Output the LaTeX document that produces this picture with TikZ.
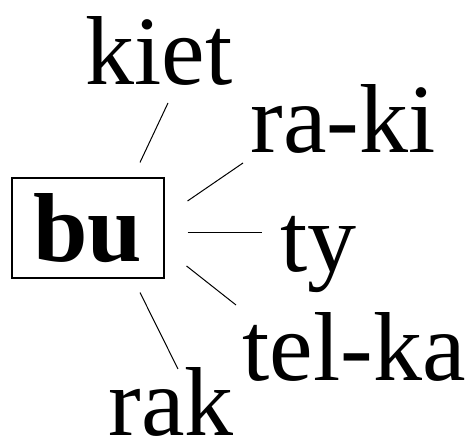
\documentclass[tikz,border=0pt]{standalone}
\usepackage{fontspec}
\setmainfont{Liberation Serif}
\usetikzlibrary{positioning}

\begin{document}
\begin{tikzpicture}[x=0.5pt, y=-0.5pt, line width=0.55pt,
    word/.style={inner sep=0pt, anchor=base west, font=\fontsize{49}{55}\selectfont},
    link/.style={line width=0.5pt}]
    \useasboundingbox (0,0) rectangle (473,442);

    \node[draw, inner sep=0pt, minimum width=76pt, minimum height=50pt, font=\fontsize{49}{55}\selectfont\bfseries] (bu) at (88,228) {bu};

    \node[word] (kiet) at (85,85) {kiet};
    \node[word] (raki) at (250,153) {ra-ki};
    \node[word] (ty) at (280,272) {ty};
    \node[word] (telka) at (242,381) {tel-ka};
    \node[word] (rak) at (108,436) {rak};

    \draw[link] ([shift={(52,-15)}]bu.north) -- ([shift={(83,18)}]kiet.base west);
    \draw[link] ([shift={(23,-27)}]bu.east) -- ([shift={(-7,10)}]raki.base west);
    \draw[link] ([shift={(23,5)}]bu.east) -- ([shift={(-18,-39)}]ty.base west);
    \draw[link] ([shift={(22,38)}]bu.east) -- ([shift={(-6,-76)}]telka.base west);
    \draw[link] ([shift={(52,14)}]bu.south) -- ([shift={(70,-67)}]rak.base west);
\end{tikzpicture}
\end{document}
